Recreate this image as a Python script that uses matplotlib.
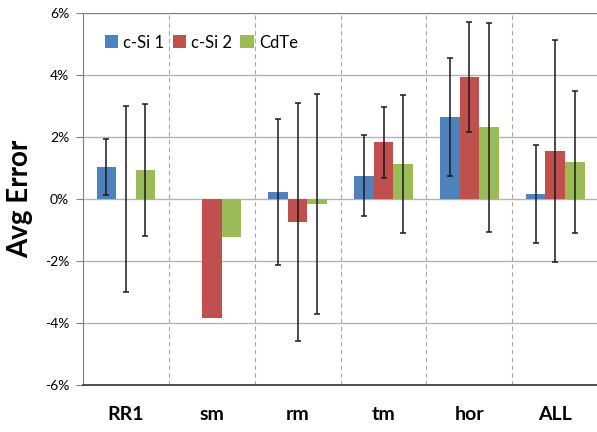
import numpy as np
import matplotlib
matplotlib.use("Agg")
import matplotlib.pyplot as plt
from matplotlib.ticker import FuncFormatter

categories = ["RR1", "sm", "rm", "tm", "hor", "ALL"]
series_names = ["c-Si 1", "c-Si 2", "CdTe"]

# average error in percent
csi1 = [1.03, 0.0, 0.23, 0.75, 2.65, 0.16]
csi2 = [0.0, -3.84, -0.74, 1.83, 3.94, 1.55]
cdte = [0.94, -1.23, -0.15, 1.13, 2.32, 1.19]

# error bar half-widths in percent (nan = no error bar)
csi1_err = [0.90, np.nan, 2.35, 1.30, 1.90, 1.59]
csi2_err = [3.00, np.nan, 3.85, 1.15, 1.78, 3.58]
cdte_err = [2.14, np.nan, 3.55, 2.23, 3.37, 2.30]

colors = ["#4F81BD", "#C0504D", "#9BBB59"]

plt.rcParams['font.family'] = ['Lato', 'DejaVu Sans']

fig = plt.figure(figsize=(5.97, 4.32), dpi=100)
ax = fig.add_axes([0.139, 0.1088, 0.863, 0.8611])

x = np.arange(len(categories))
width = 0.228
values = [csi1, csi2, cdte]
errors = [csi1_err, csi2_err, cdte_err]

for i, (vals, errs) in enumerate(zip(values, errors)):
    pos = x + (i - 1) * width
    ax.bar(pos, vals, width, color=colors[i], label=series_names[i], zorder=3)
    ax.errorbar(pos, vals, yerr=errs, fmt="none", ecolor="#1a1a1a",
                elinewidth=1.1, capsize=2, capthick=1.1, zorder=4)

ax.set_xlim(-0.5, 5.5)
ax.set_ylim(-6, 6)
ax.set_yticks(np.arange(-6, 7, 2))
ax.yaxis.set_major_formatter(FuncFormatter(lambda v, p: "%d%%" % v))
ax.grid(axis="y", color="#b3b3b3", linewidth=1.0, zorder=0)

# dashed separators between categories
for b in np.arange(0.5, 5.5, 1):
    ax.axvline(b, color="#a6a6a6", linestyle=(0, (4, 3)), linewidth=0.8, zorder=1)

ax.set_xticks(x)
ax.set_xticklabels(categories, fontsize=14, fontweight="bold")
ax.tick_params(axis="x", length=0, pad=15)
ax.tick_params(axis="y", length=5, color="#808080", labelsize=10, pad=5)

ax.spines["right"].set_visible(False)
ax.spines["top"].set_color("#808080")
ax.spines["left"].set_color("#808080")
ax.spines["bottom"].set_color("#404040")
ax.spines["bottom"].set_linewidth(1.3)

ax.set_ylabel("Avg Error", fontsize=20, fontweight="bold", labelpad=8)

ax.legend(loc="upper left", bbox_to_anchor=(0.03, 0.96), ncol=3, frameon=False,
          fontsize=12, handlelength=0.8, handleheight=0.8, handletextpad=0.3,
          columnspacing=0.5, borderaxespad=0)

fig.savefig("out.png", dpi=100)
